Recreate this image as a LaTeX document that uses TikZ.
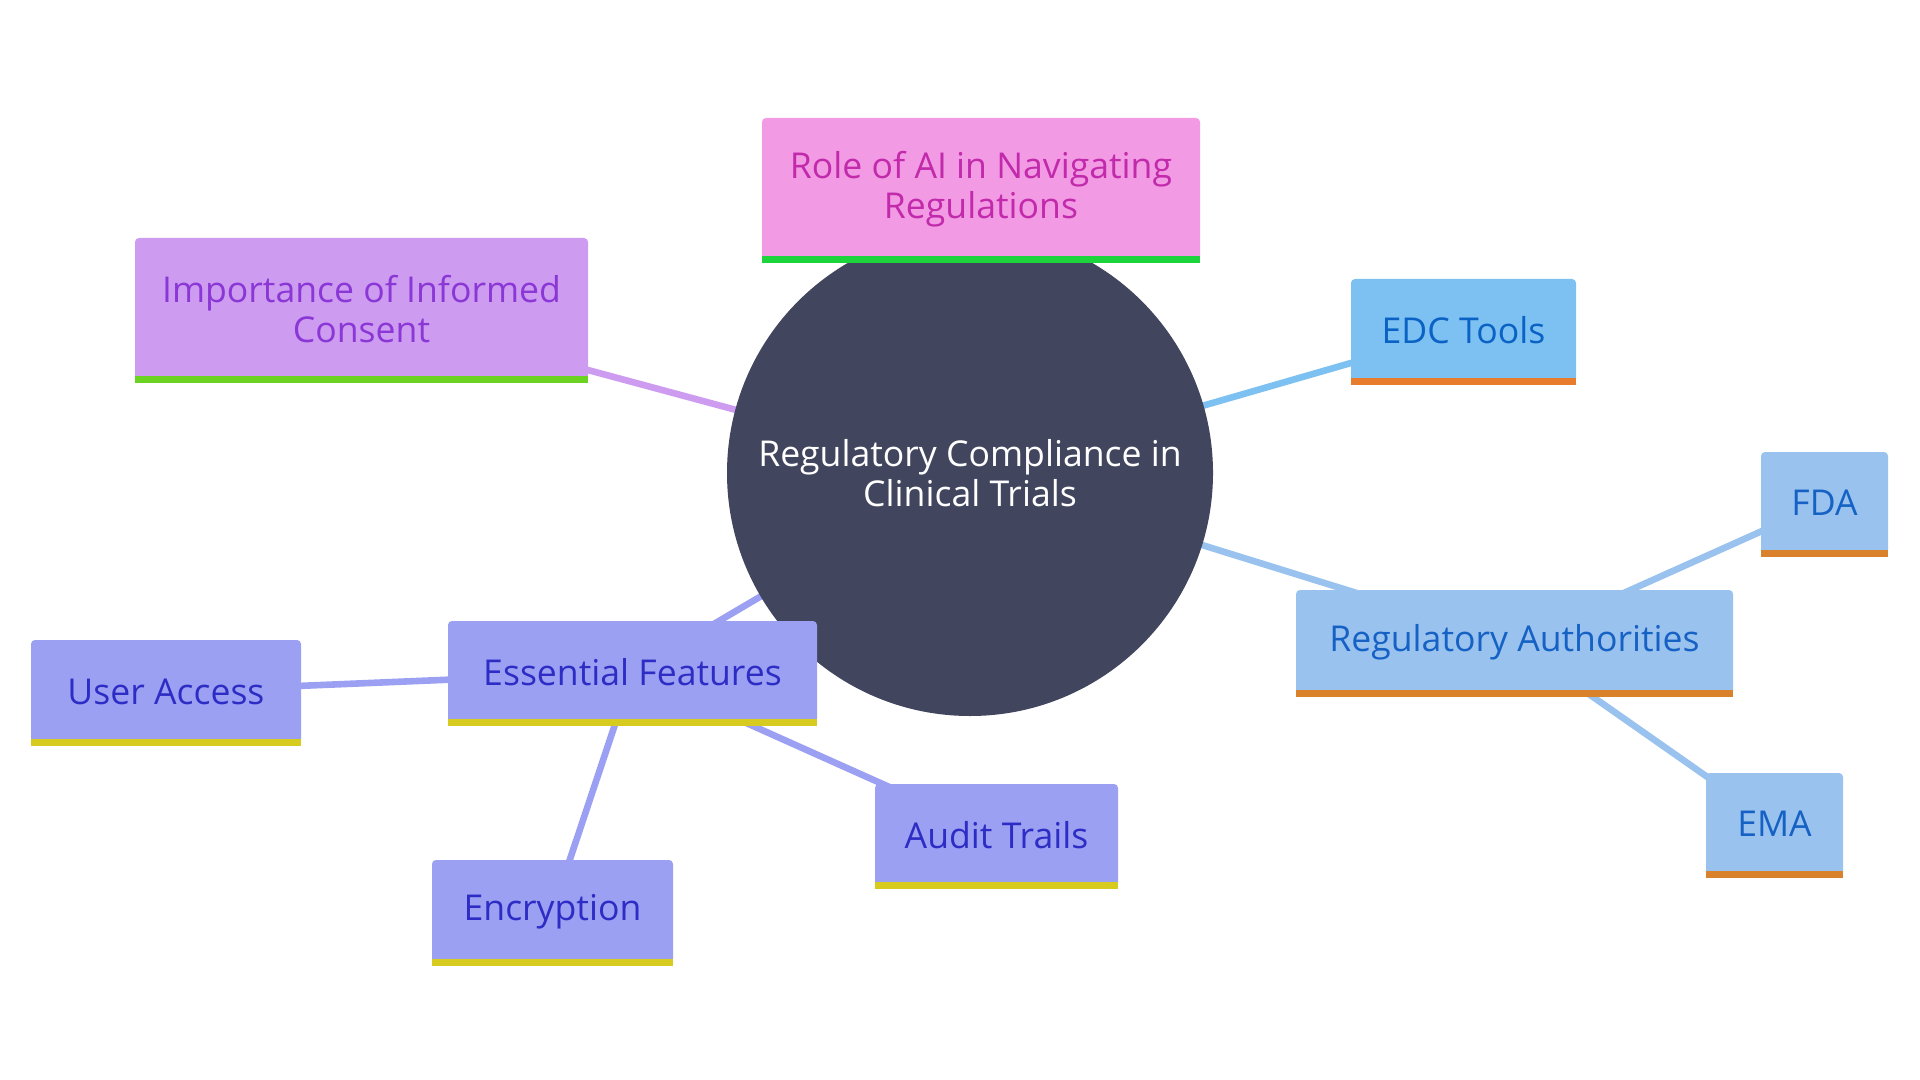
\documentclass[tikz,border=0pt]{standalone}
\usepackage{fontspec}
\setmainfont{Open Sans}
\usetikzlibrary{backgrounds}

\definecolor{hubFill}{HTML}{41455E}
\definecolor{aiFill}{HTML}{F39AE4}
\definecolor{aiText}{HTML}{C22AAC}
\definecolor{aiBar}{HTML}{1ED43D}
\definecolor{consentFill}{HTML}{CD9CF1}
\definecolor{consentText}{HTML}{8A37D6}
\definecolor{consentBar}{HTML}{6BD222}
\definecolor{edcFill}{HTML}{7DC0F2}
\definecolor{edcText}{HTML}{0A63C4}
\definecolor{edcBar}{HTML}{E77D2C}
\definecolor{authFill}{HTML}{9AC2EF}
\definecolor{authText}{HTML}{1662C4}
\definecolor{authBar}{HTML}{D9822B}
\definecolor{featFill}{HTML}{9BA0F2}
\definecolor{featText}{HTML}{2D2DC5}
\definecolor{featBar}{HTML}{D7CB20}

\begin{document}
\begin{tikzpicture}
        [x=0.5pt,y=-0.5pt,
         box/.style={shape=rectangle,rounded corners=2pt,inner sep=0,align=center,
           font=\fontsize{17.8}{20}\selectfont},
         link/.style={line width=3.3pt}]

        \useasboundingbox (0,0) rectangle (1920,1080);

        \node[shape=circle,fill=hubFill,text=white,inner sep=0,minimum size=243pt,align=center,
          font=\fontsize{17.8}{20}\selectfont] (hub) at (970,473) {Regulatory Compliance in\\Clinical Trials};

        \node[box,fill=aiFill,text=aiText,minimum width=219pt,minimum height=71pt] (ai) at (981,189) {Role of AI in Navigating\\Regulations};
        \node[box,fill=consentFill,text=consentText,minimum width=226.5pt,minimum height=71pt] (consent) at (361.5,309) {Importance of Informed\\Consent};
        \node[box,fill=edcFill,text=edcText,minimum width=112.5pt,minimum height=51.5pt] (edc) at (1463.5,330.5) {EDC Tools};
        \node[box,fill=authFill,text=authText,minimum width=218.5pt,minimum height=52pt] (regauth) at (1514.5,642) {Regulatory Authorities};
        \node[box,fill=authFill,text=authText,minimum width=63.5pt,minimum height=51pt] (fda) at (1824.5,503) {FDA};
        \node[box,fill=authFill,text=authText,minimum width=68.5pt,minimum height=51pt] (ema) at (1774.5,824) {EMA};
        \node[box,fill=featFill,text=featText,minimum width=184.5pt,minimum height=51pt] (essential) at (632.5,672) {Essential Features};
        \node[box,fill=featFill,text=featText,minimum width=135pt,minimum height=51.5pt] (useraccess) at (166,691.5) {User Access};
        \node[box,fill=featFill,text=featText,minimum width=121.5pt,minimum height=51pt] (audit) at (996.5,835) {Audit Trails};
        \node[box,fill=featFill,text=featText,minimum width=120.5pt,minimum height=51.5pt] (encryption) at (552.5,911.5) {Encryption};

        \foreach \n/\c in {ai/aiBar,consent/consentBar,edc/edcBar,regauth/authBar,fda/authBar,ema/authBar,
            essential/featBar,useraccess/featBar,audit/featBar,encryption/featBar}
          \fill[\c] ([yshift=2pt]\n.south west) rectangle ([yshift=-1.5pt]\n.south east);

        \begin{scope}[on background layer]
          \fill[white] (0,0) rectangle (1920,1080);
          \draw[link,aiFill] (hub.center) -- (ai.center);
          \draw[link,consentFill] (hub.center) -- (consent.center);
          \draw[link,edcFill] (hub.center) -- (edc.center);
          \draw[link,authFill] (hub.center) -- (regauth.center);
          \draw[link,authFill] (regauth.center) -- (fda.center);
          \draw[link,authFill] (regauth.center) -- (ema.center);
          \draw[link,featFill] (hub.center) -- (essential.center);
          \draw[link,featFill] (essential.center) -- (useraccess.center);
          \draw[link,featFill] (essential.center) -- (audit.center);
          \draw[link,featFill] (essential.center) -- (encryption.center);
        \end{scope}
      \end{tikzpicture}
\end{document}
